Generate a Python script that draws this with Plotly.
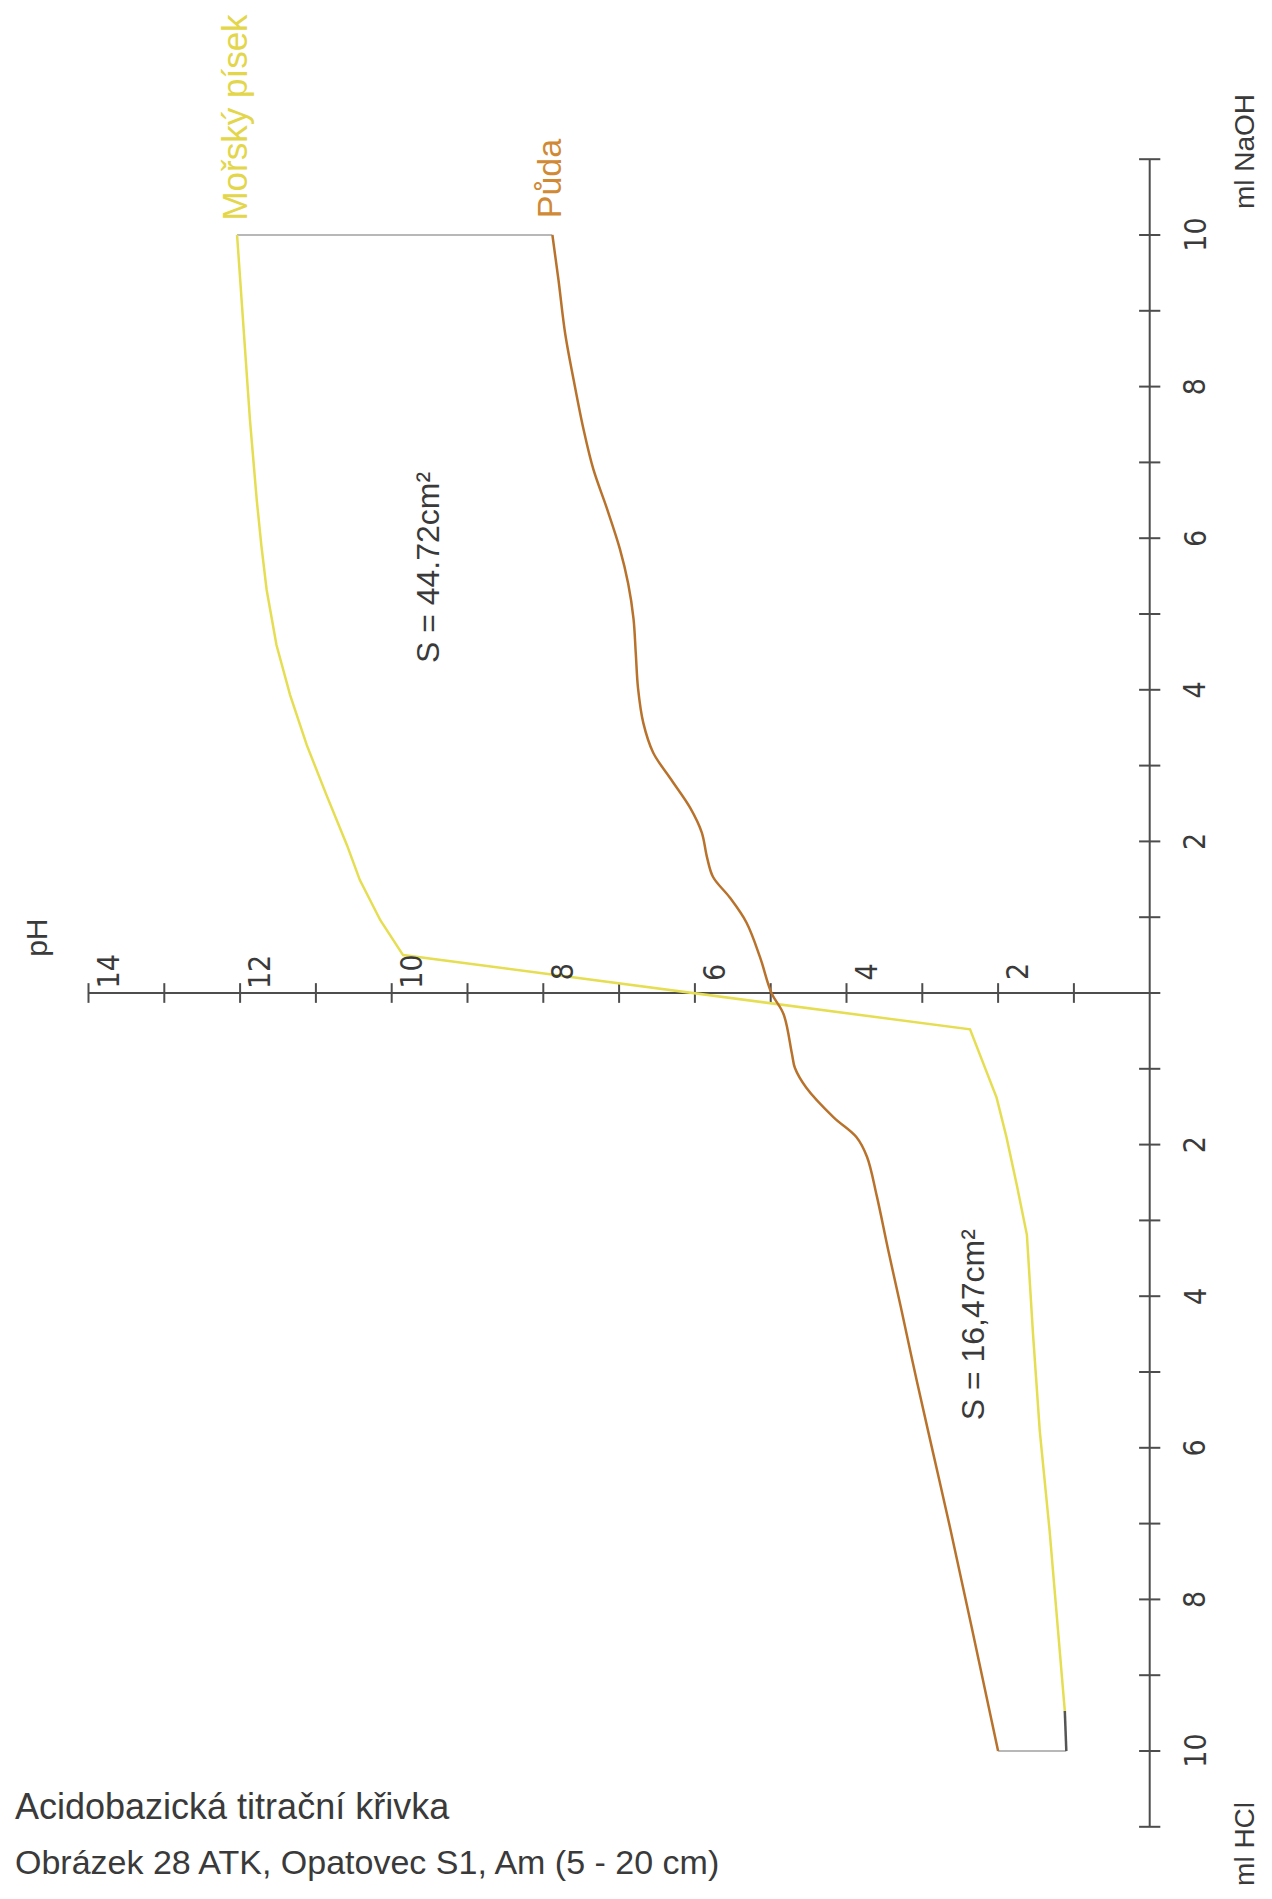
import plotly.graph_objects as go

# ---- data (pH vs. ml of titrant; NaOH positive, HCl negative) ----
SAND_ML = [10.0, 8.88, 7.56, 6.5, 5.91, 5.32, 4.59, 3.93, 3.27, 2.61, 1.95, 1.49, 0.96, 0.5,
           -0.48, -1.38, -1.9, -2.55, -3.19, -4.49, -5.78, -7.1, -8.36, -9.47]
SAND_PH = [12.04, 11.96, 11.87, 11.78, 11.72, 11.65, 11.52, 11.34, 11.12, 10.86, 10.59, 10.42, 10.15, 9.85,
           2.37, 2.02, 1.89, 1.75, 1.62, 1.54, 1.45, 1.32, 1.21, 1.12]
SAND_END_ML = -10.0
SAND_END_PH = 1.10

SOIL_ML = [10.0, 9.41, 8.69, 8.09, 7.44, 6.91, 6.39, 5.86, 5.4, 4.94, 4.48, 4.02, 3.56, 3.17, 2.84,
           2.44, 2.12, 1.79, 1.53, 1.26, 0.93, 0.47, 0.0,
           -0.28, -0.8, -0.99, -1.25, -1.64, -1.9, -2.16, -2.68, -3.39, -4.16, -5.13, -6.1, -7.07, -8.36, -10.0]
SOIL_PH = [7.88, 7.8, 7.71, 7.6, 7.47, 7.34, 7.16, 6.99, 6.88, 6.81, 6.78, 6.75, 6.68, 6.55, 6.33,
           6.06, 5.91, 5.84, 5.76, 5.54, 5.32, 5.14, 4.99,
           4.83, 4.72, 4.68, 4.53, 4.17, 3.87, 3.73, 3.6, 3.45, 3.28, 3.07, 2.85, 2.63, 2.35, 2.0]

PH_TICKS = list(range(0, 15))
PH_LABELS = [2, 4, 6, 8, 10, 12, 14]
ML_TICKS = list(range(-11, 12))
ML_LABELS = [-10, -8, -6, -4, -2, 2, 4, 6, 8, 10]

SERIES_NAMES = ["Mořský písek", "Půda"]
AREA_LABELS = ["S = 44.72cm²", "S = 16,47cm²"]
TITLE_LINES = ["Acidobazická titrační křivka", "Obrázek 28 ATK, Opatovec S1, Am (5 - 20 cm)"]

# ---- styling / geometry ----
YELLOW = "#E6DE52"
BROWN = "#B8722C"
GRAY = "#B8B8B8"
AXIS = "#4d4d4d"
TEXT = "#3a3a3a"
FONT = "Liberation Sans, Arial, sans-serif"
NARROW = "Liberation Sans Narrow, DejaVu Sans Condensed, Liberation Sans, sans-serif"

W, H, OFF = 1256, 1883, 8
PX0, PY0, SC = 1149.7, 993.0, 75.8   # page pixel of origin, pixels per unit
x_range = [(PX0 - OFF) / SC, (PX0 - OFF - W) / SC]
y_range = [(PY0 - OFF - H) / SC, (PY0 - OFF) / SC]

fig = go.Figure()

# axes drawn in data space
fig.add_trace(go.Scatter(x=[PH_TICKS[0], PH_TICKS[-1]], y=[0, 0], mode="lines",
                         line=dict(color=AXIS, width=2), hoverinfo="skip"))
fig.add_trace(go.Scatter(x=[0, 0], y=[ML_TICKS[0], ML_TICKS[-1]], mode="lines",
                         line=dict(color=AXIS, width=2), hoverinfo="skip"))
tx, ty = [], []
for p in PH_TICKS[1:]:
    tx += [p, p, None]
    ty += [-0.13, 0.13, None]
for m in ML_TICKS:
    tx += [-0.14, 0.14, None]
    ty += [m, m, None]
fig.add_trace(go.Scatter(x=tx, y=ty, mode="lines", line=dict(color=AXIS, width=2), hoverinfo="skip"))

# connectors
fig.add_trace(go.Scatter(x=[SAND_PH[0], SOIL_PH[0]], y=[SAND_ML[0], SOIL_ML[0]], mode="lines",
                         line=dict(color=GRAY, width=2), hoverinfo="skip"))
fig.add_trace(go.Scatter(x=[SOIL_PH[-1], SAND_END_PH], y=[SOIL_ML[-1], SAND_END_ML], mode="lines",
                         line=dict(color=GRAY, width=2), hoverinfo="skip"))
fig.add_trace(go.Scatter(x=[SAND_PH[-1], SAND_END_PH], y=[SAND_ML[-1], SAND_END_ML], mode="lines",
                         line=dict(color="#555555", width=2.5), hoverinfo="skip"))

# curves
fig.add_trace(go.Scatter(x=SAND_PH, y=SAND_ML, mode="lines", name=SERIES_NAMES[0],
                         line=dict(color=YELLOW, width=2.5)))
fig.add_trace(go.Scatter(x=SOIL_PH, y=SOIL_ML, mode="lines", name=SERIES_NAMES[1],
                         line=dict(color=BROWN, width=2.5, shape="spline", smoothing=1.0)))

ann = []
def txt(x, y, s, size, color=TEXT, family=FONT, angle=-90, xanchor="center", yanchor="middle",
        xshift=0, yshift=0):
    ann.append(dict(x=x, y=y, xref="x", yref="y", text=s, showarrow=False, textangle=angle,
                    font=dict(size=size, color=color, family=family),
                    xanchor=xanchor, yanchor=yanchor, xshift=xshift, yshift=yshift))

for p in PH_LABELS:
    txt(p, 0, str(p), 30, family=NARROW, xshift=19, yshift=21)
for m in ML_LABELS:
    txt(0, m, str(abs(m)), 30, family=NARROW, xshift=45)

txt(14.69, 0.73, "pH", 30)
txt(-1.25, 11.1, "ml NaOH", 28)
txt(-1.25, -11.22, "ml HCl", 28)
txt(12.07, 11.56, SERIES_NAMES[0], 35, color="#E3D64A")
txt(7.92, 10.74, SERIES_NAMES[1], 34, color="#D08A36")
txt(9.52, 5.62, AREA_LABELS[0], 32)
txt(2.33, -4.37, AREA_LABELS[1], 32)
txt(15.0, -10.73, TITLE_LINES[0], 36, angle=0, xanchor="left")
txt(15.0, -11.46, TITLE_LINES[1], 34, angle=0, xanchor="left")

fig.update_layout(
    width=W, height=H, margin=dict(l=0, r=0, t=0, b=0),
    paper_bgcolor="white", plot_bgcolor="white", showlegend=False,
    xaxis=dict(range=x_range, visible=False, fixedrange=True),
    yaxis=dict(range=y_range, visible=False, fixedrange=True),
    annotations=ann,
)
fig.write_html("out.html")
